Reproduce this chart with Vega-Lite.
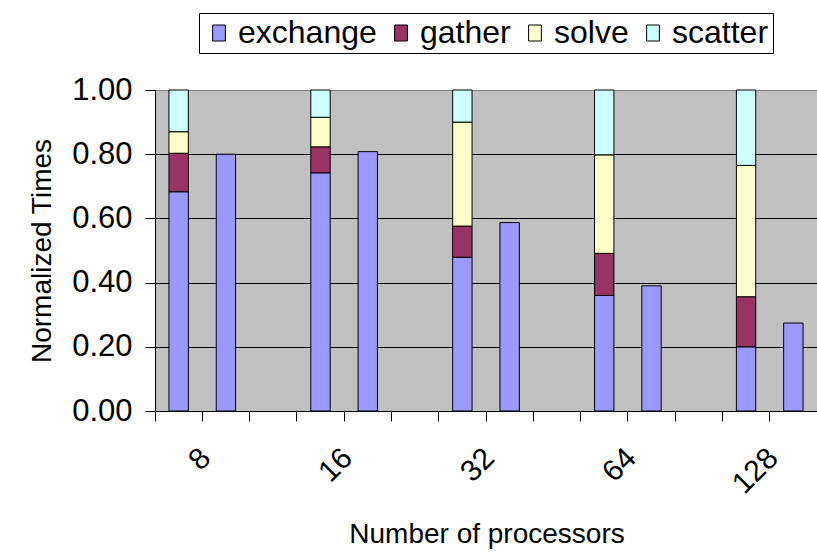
{
  "$schema": "https://vega.github.io/schema/vega-lite/v6.json",
  "width": 662,
  "height": 321,
  "autosize": "none",
  "padding": {"left": 155, "top": 90, "right": 0, "bottom": 148},
  "background": "white",
  "config": {
    "font": "Liberation Sans",
    "view": {"fill": "#C0C0C0", "stroke": null}
  },
  "data": {
    "values": [
      {"slot": "8-stack", "series": "exchange", "ord": 1, "value": 0.683},
      {"slot": "8-stack", "series": "gather", "ord": 2, "value": 0.120},
      {"slot": "8-stack", "series": "solve", "ord": 3, "value": 0.067},
      {"slot": "8-stack", "series": "scatter", "ord": 4, "value": 0.130},
      {"slot": "8-total", "series": "exchange", "ord": 1, "value": 0.800},
      {"slot": "16-stack", "series": "exchange", "ord": 1, "value": 0.742},
      {"slot": "16-stack", "series": "gather", "ord": 2, "value": 0.081},
      {"slot": "16-stack", "series": "solve", "ord": 3, "value": 0.092},
      {"slot": "16-stack", "series": "scatter", "ord": 4, "value": 0.085},
      {"slot": "16-total", "series": "exchange", "ord": 1, "value": 0.808},
      {"slot": "32-stack", "series": "exchange", "ord": 1, "value": 0.479},
      {"slot": "32-stack", "series": "gather", "ord": 2, "value": 0.097},
      {"slot": "32-stack", "series": "solve", "ord": 3, "value": 0.324},
      {"slot": "32-stack", "series": "scatter", "ord": 4, "value": 0.100},
      {"slot": "32-total", "series": "exchange", "ord": 1, "value": 0.587},
      {"slot": "64-stack", "series": "exchange", "ord": 1, "value": 0.360},
      {"slot": "64-stack", "series": "gather", "ord": 2, "value": 0.131},
      {"slot": "64-stack", "series": "solve", "ord": 3, "value": 0.307},
      {"slot": "64-stack", "series": "scatter", "ord": 4, "value": 0.202},
      {"slot": "64-total", "series": "exchange", "ord": 1, "value": 0.390},
      {"slot": "128-stack", "series": "exchange", "ord": 1, "value": 0.200},
      {"slot": "128-stack", "series": "gather", "ord": 2, "value": 0.156},
      {"slot": "128-stack", "series": "solve", "ord": 3, "value": 0.409},
      {"slot": "128-stack", "series": "scatter", "ord": 4, "value": 0.235},
      {"slot": "128-total", "series": "exchange", "ord": 1, "value": 0.274}
    ]
  },
  "mark": {"type": "bar", "width": {"band": 0.41}, "stroke": "black", "strokeWidth": 1},
  "encoding": {
    "x": {
      "field": "slot",
      "type": "nominal",
      "sort": null,
      "scale": {
        "domain": ["8-stack", "8-total", "8-gap", "16-stack", "16-total", "16-gap", "32-stack", "32-total", "32-gap", "64-stack", "64-total", "64-gap", "128-stack", "128-total"],
        "paddingInner": 0,
        "paddingOuter": 0
      },
      "axis": {
        "title": "Number of processors",
        "titleFontSize": 28,
        "titleFontWeight": "normal",
        "titleColor": "black",
        "titleBaseline": "alphabetic",
        "titleY": 131,
        "titleX": 331.5,
        "bandPosition": 0,
        "labelExpr": "indexof(datum.value, '-total') > 0 ? replace(datum.value, '-total', '') : ''",
        "labelAngle": -45,
        "labelAlign": "right",
        "labelBaseline": "middle",
        "labelFontSize": 30,
        "labelColor": "black",
        "labelPadding": 32,
        "labelOffset": -20,
        "labelOverlap": false,
        "tickSize": 10,
        "tickColor": "black",
        "domainColor": "black",
        "grid": false
      }
    },
    "y": {
      "field": "value",
      "type": "quantitative",
      "stack": "zero",
      "scale": {"domain": [0, 1], "nice": false, "zero": true},
      "axis": {
        "title": "Normalized Times",
        "titleFontSize": 28,
        "titleFontWeight": "normal",
        "titleColor": "black",
        "titleBaseline": "alphabetic",
        "titleAngle": -90,
        "titleX": -105,
        "titleY": 160.5,
        "values": [0, 0.2, 0.4, 0.6, 0.8, 1.0],
        "format": ".2f",
        "labelFontSize": 31,
        "labelColor": "black",
        "labelPadding": 13,
        "tickSize": 10,
        "tickColor": "black",
        "domainColor": "black",
        "grid": true,
        "gridColor": {"condition": {"test": "datum.value === 1", "value": "#808080"}, "value": "black"},
        "gridOpacity": 1,
        "gridWidth": 1
      }
    },
    "color": {
      "field": "series",
      "type": "nominal",
      "scale": {
        "domain": ["exchange", "gather", "solve", "scatter"],
        "range": ["#9999FF", "#993366", "#FFFFCC", "#CCFFFF"]
      },
      "legend": {
        "title": null,
        "orient": "none",
        "legendX": 44,
        "legendY": -77,
        "direction": "horizontal",
        "columns": 4,
        "columnPadding": 8,
        "symbolType": "M-0.8,-1H0.8V1H-0.8Z",
        "symbolSize": 256,
        "symbolStrokeColor": "black",
        "symbolStrokeWidth": 1,
        "symbolOpacity": 1,
        "labelFontSize": 32,
        "labelColor": "black",
        "labelOffset": 3,
        "padding": 4,
        "strokeColor": "black",
        "fillColor": "white"
      }
    },
    "order": {"field": "ord", "type": "quantitative"}
  }
}
